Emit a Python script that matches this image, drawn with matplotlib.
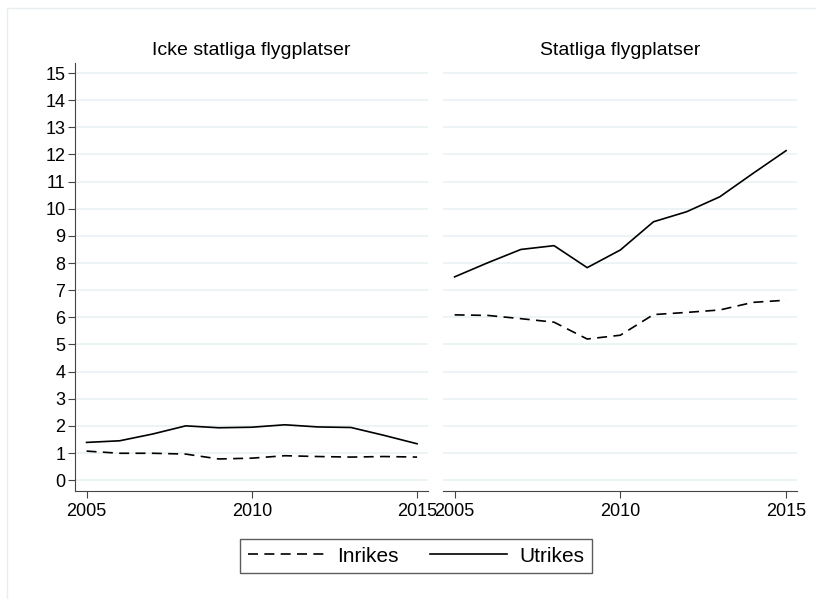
import matplotlib
matplotlib.use("Agg")
import matplotlib.pyplot as plt
from matplotlib.lines import Line2D

plt.rcParams['font.family'] = ['Liberation Sans', 'DejaVu Sans']

years = [2005, 2006, 2007, 2008, 2009, 2010, 2011, 2012, 2013, 2014, 2015]
panel_titles = ["Icke statliga flygplatser", "Statliga flygplatser"]
series_names = ["Inrikes", "Utrikes"]

icke_inrikes = [1.07, 0.99, 0.99, 0.96, 0.78, 0.81, 0.90, 0.87, 0.85, 0.87, 0.85]
icke_utrikes = [1.39, 1.45, 1.70, 2.00, 1.93, 1.95, 2.04, 1.96, 1.94, 1.65, 1.34]
stat_inrikes = [6.09, 6.07, 5.95, 5.82, 5.20, 5.34, 6.10, 6.18, 6.27, 6.55, 6.63]
stat_utrikes = [7.49, 8.01, 8.50, 8.64, 7.83, 8.48, 9.52, 9.89, 10.44, 11.30, 12.14]

yticks = list(range(0, 16))
xticks = [2005, 2010, 2015]

W, H = 816, 599
fig = plt.figure(figsize=(W / 100, H / 100), dpi=100)
fig.patch.set_facecolor('white')

# faint outer frame
fig.add_artist(Line2D([7 / W, 1], [1 - 8 / H, 1 - 8 / H], color='#e8eef0', lw=1))
fig.add_artist(Line2D([7 / W, 7 / W], [0, 1 - 8 / H], color='#e8eef0', lw=1))

bottom = 1 - 491 / H
top = 1 - 63 / H
ax1 = fig.add_axes([75 / W, bottom, (428 - 75) / W, top - bottom])
ax2 = fig.add_axes([443 / W, bottom, (797 - 443) / W, top - bottom])

grid_color = '#eaf2f3'
spine_color = '#444444'
dash = (0, (6, 3.8))
data = [(icke_inrikes, icke_utrikes), (stat_inrikes, stat_utrikes)]

for i, (ax, (inr, utr), title) in enumerate(zip([ax1, ax2], data, panel_titles)):
    ax.plot(years, inr, color='black', lw=1.2, linestyle=dash)
    ax.plot(years, utr, color='black', lw=1.2)
    ax.set_xlim(2004.65, 2015.33)
    ax.set_ylim(-0.4, 15.37)
    ax.set_yticks(yticks)
    ax.set_xticks(xticks)
    ax.grid(axis='y', color=grid_color, lw=1.2)
    ax.set_axisbelow(True)
    for s in ['top', 'right']:
        ax.spines[s].set_visible(False)
    ax.spines['bottom'].set_color(spine_color)
    ax.spines['left'].set_color(spine_color)
    ax.tick_params(axis='both', direction='out', length=5, width=0.8,
                   color=spine_color, labelsize=13, pad=2)
    ax.tick_params(axis='x', pad=4)
    ax.set_title(title, fontsize=14, pad=6)
    if i == 1:
        ax.spines['left'].set_visible(False)
        ax.tick_params(axis='y', left=False, labelleft=False)

handles = [Line2D([], [], color='black', lw=1.2, linestyle=dash),
           Line2D([], [], color='black', lw=1.2)]
leg = fig.legend(handles, series_names, loc='center', ncol=2,
                 bbox_to_anchor=(416 / W, 1 - 556 / H), fontsize=15,
                 frameon=True, fancybox=False, edgecolor='#333333',
                 handlelength=3.7, columnspacing=1.5, handletextpad=0.6,
                 borderpad=0.35, borderaxespad=0)
leg.get_frame().set_linewidth(1.0)

fig.savefig('out.png', dpi=100, facecolor='white')
